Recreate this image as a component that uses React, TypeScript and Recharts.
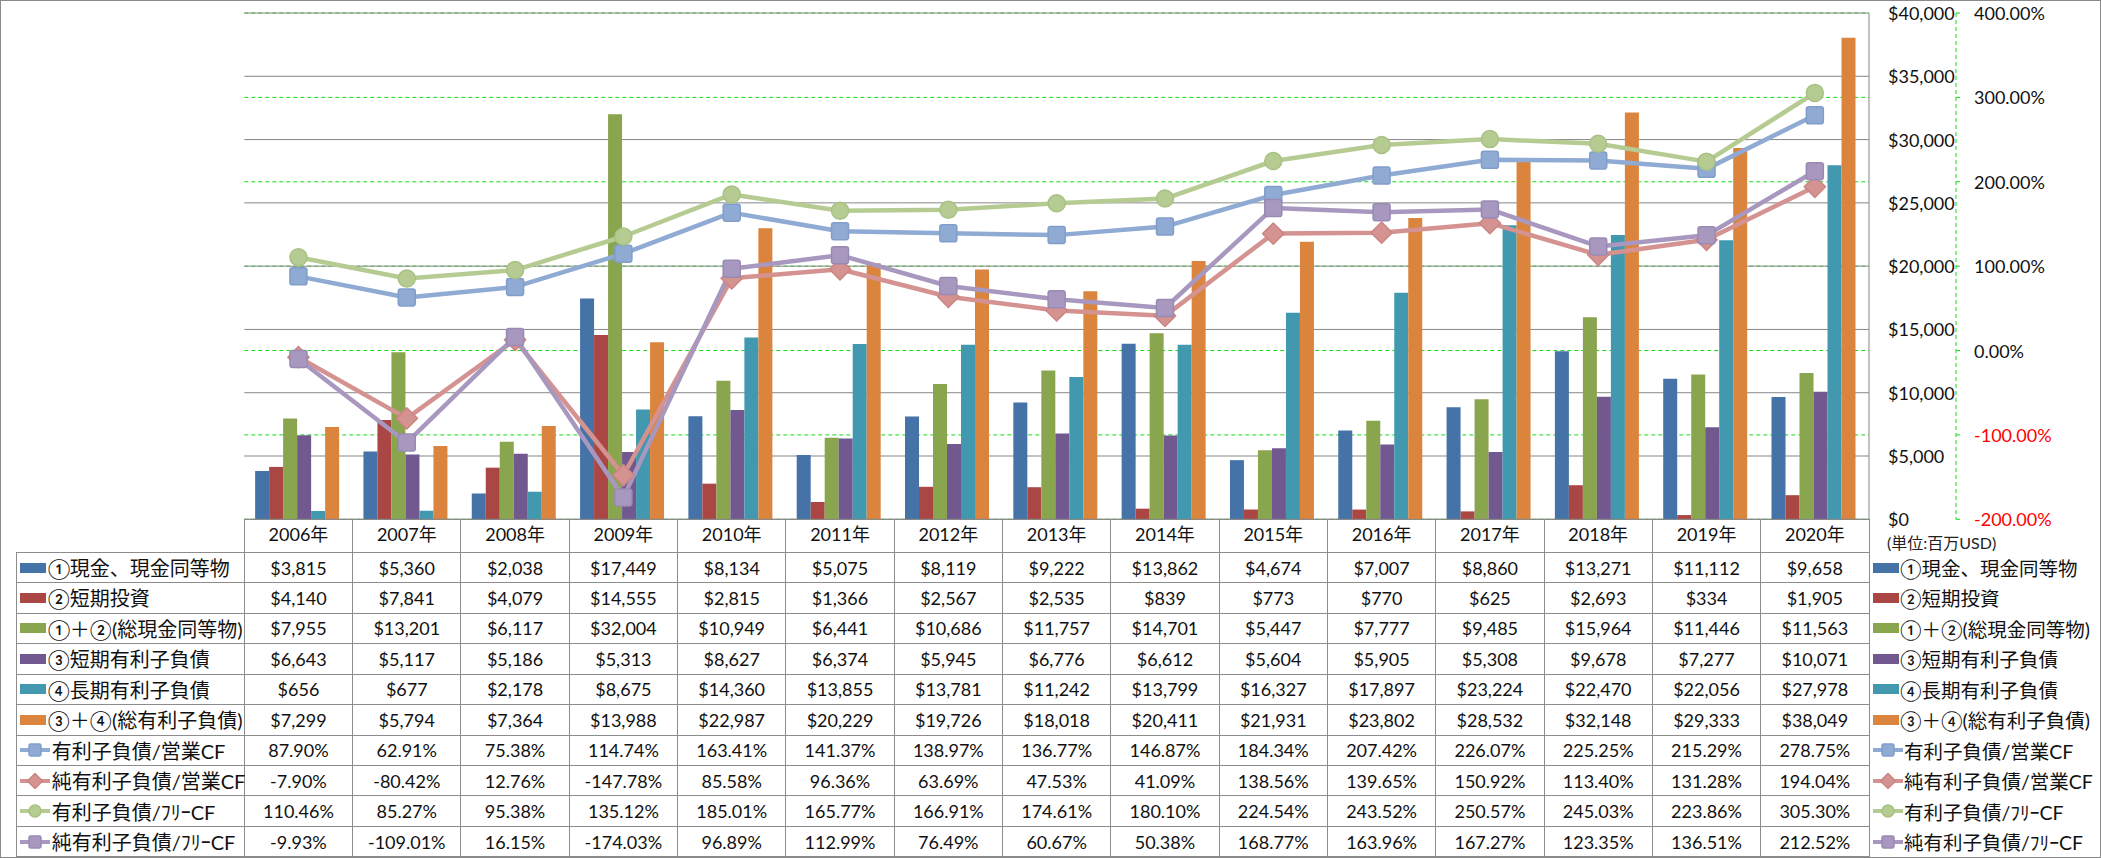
import { ComposedChart, Bar, Line, XAxis, YAxis, CartesianGrid } from 'recharts';

const YEARS = ['2006年', '2007年', '2008年', '2009年', '2010年', '2011年', '2012年', '2013年', '2014年', '2015年', '2016年', '2017年', '2018年', '2019年', '2020年'];

// 単位: 百万USD
const CASH = [3815, 5360, 2038, 17449, 8134, 5075, 8119, 9222, 13862, 4674, 7007, 8860, 13271, 11112, 9658];
const ST_INVEST = [4140, 7841, 4079, 14555, 2815, 1366, 2567, 2535, 839, 773, 770, 625, 2693, 334, 1905];
const TOTAL_CASH = [7955, 13201, 6117, 32004, 10949, 6441, 10686, 11757, 14701, 5447, 7777, 9485, 15964, 11446, 11563];
const ST_DEBT = [6643, 5117, 5186, 5313, 8627, 6374, 5945, 6776, 6612, 5604, 5905, 5308, 9678, 7277, 10071];
const LT_DEBT = [656, 677, 2178, 8675, 14360, 13855, 13781, 11242, 13799, 16327, 17897, 23224, 22470, 22056, 27978];
const TOTAL_DEBT = [7299, 5794, 7364, 13988, 22987, 20229, 19726, 18018, 20411, 21931, 23802, 28532, 32148, 29333, 38049];

// %
const DEBT_OCF = [87.9, 62.91, 75.38, 114.74, 163.41, 141.37, 138.97, 136.77, 146.87, 184.34, 207.42, 226.07, 225.25, 215.29, 278.75];
const NET_DEBT_OCF = [-7.9, -80.42, 12.76, -147.78, 85.58, 96.36, 63.69, 47.53, 41.09, 138.56, 139.65, 150.92, 113.4, 131.28, 194.04];
const DEBT_FCF = [110.46, 85.27, 95.38, 135.12, 185.01, 165.77, 166.91, 174.61, 180.1, 224.54, 243.52, 250.57, 245.03, 223.86, 305.3];
const NET_DEBT_FCF = [-9.93, -109.01, 16.15, -174.03, 96.89, 112.99, 76.49, 60.67, 50.38, 168.77, 163.96, 167.27, 123.35, 136.51, 212.52];

const AMT_TICKS = [0, 5000, 10000, 15000, 20000, 25000, 30000, 35000, 40000];
const PCT_TICKS = [-200, -100, 0, 100, 200, 300, 400];

const BARS = [
  { key: 'cash', name: '①現金、現金同等物', color: '#4572A7', values: CASH },
  { key: 'stInvest', name: '②短期投資', color: '#AA4643', values: ST_INVEST },
  { key: 'totalCash', name: '①＋②(総現金同等物)', color: '#89A54E', values: TOTAL_CASH },
  { key: 'stDebt', name: '③短期有利子負債', color: '#71588F', values: ST_DEBT },
  { key: 'ltDebt', name: '④長期有利子負債', color: '#4198AF', values: LT_DEBT },
  { key: 'totalDebt', name: '③＋④(総有利子負債)', color: '#DB843D', values: TOTAL_DEBT },
];

const LINES = [
  { key: 'debtOcf', name: '有利子負債/営業CF', color: '#8FAAD3', edge: '#819ECB', shape: 'square', values: DEBT_OCF },
  { key: 'netDebtOcf', name: '純有利子負債/営業CF', color: '#D49290', edge: '#CB8583', shape: 'diamond', values: NET_DEBT_OCF },
  { key: 'debtFcf', name: '有利子負債/ﾌﾘｰCF', color: '#B5CB92', edge: '#A8C184', shape: 'circle', values: DEBT_FCF },
  { key: 'netDebtFcf', name: '純有利子負債/ﾌﾘｰCF', color: '#A898BF', edge: '#998AB4', shape: 'square', values: NET_DEBT_FCF },
];

const W = 2101;
const H = 858;
const PLOT_L = 244.3;
const PLOT_R = 1869;
const PLOT_T = 13;
const PLOT_B = 519.3;
const X_AXIS_H = 33;
const TABLE_L = 16.7;
const TABLE_TOP = 552.3;
const ROW_H = 30.45;
const COL_W = (PLOT_R - PLOT_L) / YEARS.length;

const FONT = "Lato, 'Noto Sans CJK JP', sans-serif";
const GRID = '#878787';
const GREEN = '#14DC14';

const fmtAmt = (v: number) => '$' + v.toLocaleString('en-US');
const fmtPct = (v: number) => v.toFixed(2) + '%';

function Marker({ shape, cx, cy, size, fill, stroke }: any) {
  const h = size / 2;
  if (shape === 'square') {
    return <rect x={cx - h} y={cy - h} width={size} height={size} rx={size * 0.14} fill={fill} stroke={stroke} strokeWidth={1.5} />;
  }
  if (shape === 'diamond') {
    const d = h * 1.25;
    return <polygon points={`${cx},${cy - d} ${cx + d},${cy} ${cx},${cy + d} ${cx - d},${cy}`} fill={fill} stroke={stroke} strokeWidth={1.5} strokeLinejoin="round" />;
  }
  return <circle cx={cx} cy={cy} r={h} fill={fill} stroke={stroke} strokeWidth={1.5} />;
}

const makeDot = (s: any) => (props: any) => {
  const { cx, cy, index } = props;
  if (cx == null || cy == null) return <g key={`${s.key}-n-${index}`} />;
  return (
    <g key={`${s.key}-d-${index}`}>
      <Marker shape={s.shape} cx={cx} cy={cy} size={17} fill={s.color} stroke={s.edge} />
    </g>
  );
};

const YearTick = (props: any) => {
  const { x, y, payload } = props;
  return (
    <text x={x} y={y + 15} textAnchor="middle" dominantBaseline="central" fontSize={18} fontFamily={FONT} fill="#111">
      {payload.value}
    </text>
  );
};

const AmtTick = (props: any) => {
  const { x, y, payload } = props;
  return (
    <text x={x} y={y} textAnchor="start" dominantBaseline="central" fontSize={18} fontFamily={FONT} fill="#111">
      {fmtAmt(payload.value)}
    </text>
  );
};

const PctTick = (props: any) => {
  const { x, y, payload } = props;
  return (
    <text x={x} y={y} textAnchor="start" dominantBaseline="central" fontSize={18} fontFamily={FONT} fill={payload.value < 0 ? '#FF0000' : '#111'}>
      {fmtPct(payload.value)}
    </text>
  );
};

function LegendIcon({ item, isLine }: any) {
  if (!isLine) {
    return <div style={{ width: 26, height: 10, background: item.color, flex: 'none' }} />;
  }
  return (
    <svg width={30} height={16} style={{ flex: 'none', display: 'block' }}>
      <line x1={0} y1={8} x2={30} y2={8} stroke={item.color} strokeWidth={4} />
      <Marker shape={item.shape} cx={15} cy={8} size={12} fill={item.color} stroke={item.edge} />
    </svg>
  );
}

export default function App() {
  const data = YEARS.map((year, i) => {
    const row: any = { year };
    BARS.forEach((b) => (row[b.key] = b.values[i]));
    LINES.forEach((l) => (row[l.key] = l.values[i]));
    return row;
  });

  const rows = [
    ...BARS.map((b) => ({ item: b, isLine: false, fmt: fmtAmt })),
    ...LINES.map((l) => ({ item: l, isLine: true, fmt: fmtPct })),
  ];

  const line = (style: any, k: string) => <div key={k} style={{ position: 'absolute', background: '#8C8C8C', ...style }} />;

  return (
    <div style={{ position: 'absolute', left: 0, top: 0, width: W, height: H, background: '#fff', fontFamily: FONT, overflow: 'hidden' }}>
      <ComposedChart
        width={W}
        height={H}
        data={data}
        margin={{ top: PLOT_T, right: 0, bottom: H - PLOT_B - X_AXIS_H, left: PLOT_L }}
        barCategoryGap="10%"
        barGap={0}
      >
        <CartesianGrid yAxisId="pct" vertical={false} stroke={GREEN} strokeDasharray="4 3" />
        <CartesianGrid yAxisId="amt" vertical={false} stroke={GRID} />
        <XAxis dataKey="year" height={X_AXIS_H} interval={0} tickLine={false} tickSize={0} tickMargin={0} axisLine={{ stroke: GRID }} tick={<YearTick />} />
        <YAxis yAxisId="amt" orientation="right" width={87} domain={[0, 40000]} ticks={AMT_TICKS} axisLine={{ stroke: GRID }} tickLine={false} tickSize={0} tickMargin={19} tick={<AmtTick />} />
        <YAxis yAxisId="pct" orientation="right" width={145} domain={[-200, 400]} ticks={PCT_TICKS} axisLine={{ stroke: GREEN, strokeDasharray: '4 3' }} tickLine={{ stroke: GREEN }} tickSize={4} tickMargin={14} tick={<PctTick />} />
        {BARS.map((b) => (
          <Bar key={b.key} yAxisId="amt" dataKey={b.key} name={b.name} fill={b.color} isAnimationActive={false} />
        ))}
        {LINES.map((l) => (
          <Line
            key={l.key}
            yAxisId="pct"
            type="linear"
            dataKey={l.key}
            name={l.name}
            stroke={l.color}
            strokeWidth={4.5}
            strokeLinejoin="round"
            dot={makeDot(l)}
            activeDot={false}
            isAnimationActive={false}
          />
        ))}
      </ComposedChart>

      {/* data table */}
      {Array.from({ length: rows.length + 1 }, (_, r) =>
        line({ left: TABLE_L, top: TABLE_TOP + r * ROW_H - 0.5, width: PLOT_R - TABLE_L, height: 1 }, `h${r}`)
      )}
      {line({ left: TABLE_L - 0.5, top: TABLE_TOP, width: 1, height: H - TABLE_TOP }, 'v-left')}
      {Array.from({ length: YEARS.length + 1 }, (_, c) =>
        line({ left: PLOT_L + c * COL_W - 0.5, top: PLOT_B, width: 1, height: H - PLOT_B }, `v${c}`)
      )}

      {rows.map((row, r) => (
        <div key={`lab-${r}`} style={{ position: 'absolute', left: TABLE_L + 3, top: TABLE_TOP + r * ROW_H, height: ROW_H, display: 'flex', alignItems: 'center', gap: 2, whiteSpace: 'nowrap' }}>
          <LegendIcon item={row.item} isLine={row.isLine} />
          <span style={{ fontSize: 20, color: '#111' }}>{row.item.name}</span>
        </div>
      ))}

      {rows.map((row, r) =>
        row.item.values.map((v: number, c: number) => (
          <div
            key={`c-${r}-${c}`}
            style={{ position: 'absolute', left: PLOT_L + c * COL_W, top: TABLE_TOP + r * ROW_H, width: COL_W, height: ROW_H, display: 'flex', alignItems: 'center', justifyContent: 'center', fontSize: 18, color: '#111' }}
          >
            {row.fmt(v)}
          </div>
        ))
      )}

      {/* right legend */}
      <div style={{ position: 'absolute', left: 1887, top: 529, height: 26, display: 'flex', alignItems: 'center', fontSize: 16, color: '#222', whiteSpace: 'nowrap' }}>
        (単位:百万USD)
      </div>
      {rows.map((row, r) => (
        <div key={`leg-${r}`} style={{ position: 'absolute', left: PLOT_R + 4, top: TABLE_TOP + r * ROW_H, height: ROW_H, display: 'flex', alignItems: 'center', gap: 1, whiteSpace: 'nowrap' }}>
          <LegendIcon item={row.item} isLine={row.isLine} />
          <span style={{ fontSize: 19.5, color: '#111' }}>{row.item.name}</span>
        </div>
      ))}

      <div style={{ position: 'absolute', left: 0, top: 0, width: W, height: H, border: '1px solid #8A8A8A', boxSizing: 'border-box', pointerEvents: 'none' }} />
    </div>
  );
}
